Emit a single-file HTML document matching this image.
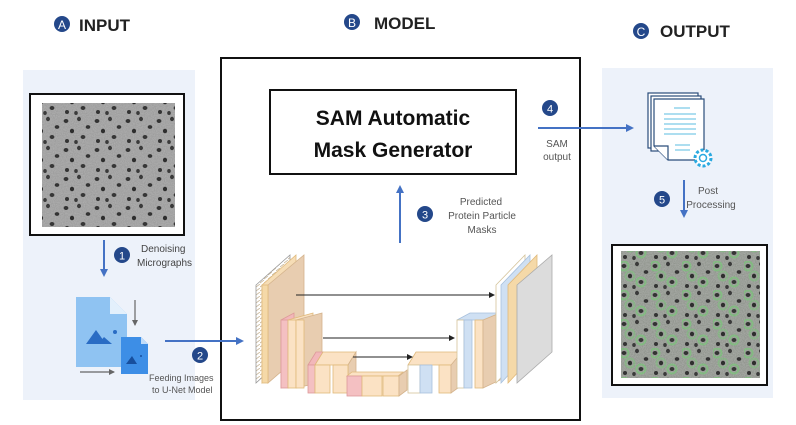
<!DOCTYPE html>
<html><head><meta charset="utf-8"><style>
html,body{margin:0;padding:0;background:#fff;}
svg{display:block;}
text{font-family:"Liberation Sans",sans-serif;}
</style></head><body>
<svg width="796" height="425" viewBox="0 0 796 425" xmlns="http://www.w3.org/2000/svg">
<defs>
<filter id="grain" x="0" y="0" width="100%" height="100%">
<feTurbulence type="fractalNoise" baseFrequency="0.9" numOctaves="2" seed="3"/>
<feColorMatrix type="matrix" values="0 0 0 0 0.55  0 0 0 0 0.55  0 0 0 0 0.55  0 0 0 -1.2 1.0"/>
</filter>
<pattern id="dots" width="31" height="29" patternUnits="userSpaceOnUse">
<ellipse cx="4" cy="5" rx="2.4" ry="2" fill="#333"/>
<ellipse cx="17" cy="3" rx="2" ry="2.2" fill="#3a3a3a"/>
<ellipse cx="26" cy="11" rx="2.3" ry="1.9" fill="#333"/>
<ellipse cx="10" cy="15" rx="2.1" ry="2.3" fill="#2e2e2e"/>
<ellipse cx="21" cy="21" rx="2.4" ry="2" fill="#363636"/>
<ellipse cx="5" cy="25" rx="2" ry="2" fill="#333"/>
<ellipse cx="14" cy="26" rx="1.8" ry="2" fill="#3a3a3a"/>
</pattern>
<pattern id="gdots" width="31" height="29" patternUnits="userSpaceOnUse">
<circle cx="4" cy="5" r="4.5" fill="none" stroke="#6fcf6f" stroke-width="2" opacity=".55"/>
<circle cx="21" cy="21" r="4.5" fill="none" stroke="#6fcf6f" stroke-width="2" opacity=".55"/>
<circle cx="10" cy="15" r="4.5" fill="none" stroke="#6fcf6f" stroke-width="2" opacity=".4"/>
<ellipse cx="4" cy="5" rx="2.4" ry="2" fill="#333"/>
<ellipse cx="17" cy="3" rx="2" ry="2.2" fill="#3a3a3a"/>
<ellipse cx="26" cy="11" rx="2.3" ry="1.9" fill="#333"/>
<ellipse cx="10" cy="15" rx="2.1" ry="2.3" fill="#2e2e2e"/>
<ellipse cx="21" cy="21" rx="2.4" ry="2" fill="#363636"/>
<ellipse cx="5" cy="25" rx="2" ry="2" fill="#333"/>
<ellipse cx="14" cy="26" rx="1.8" ry="2" fill="#3a3a3a"/>
</pattern>
<pattern id="hatch" width="4" height="4" patternUnits="userSpaceOnUse">
<rect width="4" height="4" fill="#fff"/><line x1="0" y1="3" x2="4" y2="0" stroke="#c9b79a" stroke-width="0.8"/>
</pattern>
<marker id="ah" markerWidth="8" markerHeight="8" refX="6" refY="4" orient="auto" markerUnits="userSpaceOnUse"><path d="M0,0 L8,4 L0,8 z" fill="#4472c4"/></marker>
<marker id="ak" markerWidth="6" markerHeight="6" refX="5" refY="3" orient="auto" markerUnits="userSpaceOnUse"><path d="M0,0 L6,3 L0,6 z" fill="#222"/></marker>
<marker id="ag" markerWidth="6" markerHeight="6" refX="5" refY="3" orient="auto" markerUnits="userSpaceOnUse"><path d="M0,0 L6,3 L0,6 z" fill="#666"/></marker>
</defs>

<!-- headers -->
<circle cx="62" cy="24" r="8" fill="#24488a"/><text x="62" y="29" font-size="12" fill="#fff" text-anchor="middle">A</text>
<text x="79" y="31" font-size="17" font-weight="bold" fill="#222">INPUT</text>
<circle cx="352" cy="22" r="8" fill="#24488a"/><text x="352" y="27" font-size="12" fill="#fff" text-anchor="middle">B</text>
<text x="374" y="29" font-size="17" font-weight="bold" fill="#222">MODEL</text>
<circle cx="641" cy="31" r="8" fill="#24488a"/><text x="641" y="36" font-size="12" fill="#fff" text-anchor="middle">C</text>
<text x="660" y="37" font-size="17" font-weight="bold" fill="#222">OUTPUT</text>

<!-- side panels -->
<rect x="23" y="70" width="172" height="330" fill="#edf2fa"/>
<rect x="602" y="68" width="171" height="330" fill="#edf2fa"/>

<!-- model box -->
<rect x="221" y="58" width="359" height="362" fill="#fff" stroke="#111" stroke-width="2"/>

<!-- input image -->
<rect x="30" y="94" width="154" height="141" fill="#fff" stroke="#111" stroke-width="2"/>
<rect x="42" y="103" width="133" height="124" fill="#9b9b9b"/>
<rect x="42" y="103" width="133" height="124" filter="url(#grain)" opacity=".6"/>
<rect x="42" y="103" width="133" height="124" fill="url(#dots)"/>

<!-- arrow 1 -->
<line x1="104" y1="240" x2="104" y2="275" stroke="#4472c4" stroke-width="2" marker-end="url(#ah)"/>
<circle cx="122" cy="255" r="8" fill="#24488a"/><text x="122" y="259.5" font-size="11" fill="#fff" text-anchor="middle">1</text>
<text x="141" y="252" font-size="10" fill="#444">Denoising</text>
<text x="137" y="266" font-size="10" fill="#444">Micrographs</text>

<!-- image file icons -->
<path d="M76,297 L110,297 L127,314 L127,367 L76,367 z" fill="#8fc3f2"/>
<path d="M110,297 L127,314 L110,314 z" fill="#e3f0fc"/>
<path d="M86,344 L96,330 L106,344 z" fill="#2a6cc4"/><path d="M98,344 L104,337 L112,344 z" fill="#2a6cc4"/>
<circle cx="115" cy="332" r="2" fill="#2a6cc4"/>
<path d="M121,337 L141,337 L148,344 L148,374 L121,374 z" fill="#3d8ee6"/>
<path d="M141,337 L148,344 L141,344 z" fill="#bfdcfa"/>
<path d="M126,364 L132,356 L137,364 z" fill="#174f9e"/><circle cx="141" cy="356" r="1" fill="#174f9e"/>
<line x1="135" y1="300" x2="135" y2="325" stroke="#666" stroke-width="1.2" marker-end="url(#ag)"/>
<line x1="80" y1="372" x2="114" y2="372" stroke="#666" stroke-width="1.2" marker-end="url(#ag)"/>

<!-- arrow 2 -->
<line x1="165" y1="341" x2="242" y2="341" stroke="#4472c4" stroke-width="2" marker-end="url(#ah)"/>
<circle cx="200" cy="355" r="8" fill="#24488a"/><text x="200" y="359.5" font-size="11" fill="#fff" text-anchor="middle">2</text>
<text x="149" y="381" font-size="9" fill="#555">Feeding Images</text>
<text x="152" y="393" font-size="9" fill="#555">to U-Net Model</text>

<rect x="270" y="90" width="246" height="84" fill="#fff" stroke="#111" stroke-width="2"/>
<text x="393" y="125" font-size="21" font-weight="bold" fill="#111" text-anchor="middle">SAM Automatic</text>
<text x="393" y="157" font-size="21" font-weight="bold" fill="#111" text-anchor="middle">Mask Generator</text>

<!-- arrow 3 -->
<line x1="400" y1="243" x2="400" y2="187" stroke="#4472c4" stroke-width="2" marker-end="url(#ah)"/>
<circle cx="425" cy="214" r="8" fill="#24488a"/><text x="425" y="218.5" font-size="11" fill="#fff" text-anchor="middle">3</text>
<text x="481" y="205" font-size="10" fill="#555" text-anchor="middle">Predicted</text>
<text x="482" y="219" font-size="10" fill="#555" text-anchor="middle">Protein Particle</text>
<text x="482" y="233" font-size="10" fill="#555" text-anchor="middle">Masks</text>

<!-- U-Net -->
<g stroke-width="0.8">
<polygon points="256,285 290,255 290,352 256,383" fill="url(#hatch)" stroke="#999"/>
<polygon points="262,285 296,255 296,352 262,383" fill="#f6ddb6" stroke="#e0b97a"/>
<polygon points="268,285 304,255 304,352 268,383" fill="#e8cdb0" stroke="#d4b38c"/>
<rect x="262" y="285" width="6" height="98" fill="#f5d9a8" stroke="#e0b97a"/>
<polygon points="281,320 294,313 294,382 281,388" fill="#f2b7b9" stroke="#d99"/>
<polygon points="288,320 313,313 313,382 288,388" fill="#f8dfc0" stroke="#e0b97a"/>
<polygon points="296,320 322,313 322,382 296,388" fill="#e8cdb0" stroke="#d4b38c"/>
<rect x="281" y="320" width="7" height="68" fill="#f4c0c2" stroke="#d99"/>
<rect x="288" y="320" width="8" height="68" fill="#fbe2c4" stroke="#e0b97a"/>
<rect x="296" y="320" width="8" height="68" fill="#fbe2c4" stroke="#e0b97a"/>
<polygon points="308,365 316,352 323,352 315,365" fill="#f2b7b9" stroke="#d99"/>
<rect x="308" y="365" width="7" height="28" fill="#f4c0c2" stroke="#d99"/>
<polygon points="315,365 323,352 356,352 348,365" fill="#fbe2c4" stroke="#e0b97a"/>
<polygon points="348,365 356,352 356,385 348,393" fill="#e8cdb0" stroke="#d4b38c"/>
<rect x="315" y="365" width="15" height="28" fill="#fbe2c4" stroke="#e0b97a"/>
<rect x="333" y="365" width="15" height="28" fill="#fbe2c4" stroke="#e0b97a"/>
<polygon points="347,376 352,372 403,372 398,376" fill="#fbe2c4" stroke="#e0b97a"/>
<rect x="347" y="376" width="15" height="20" fill="#f4c0c2" stroke="#d99"/>
<rect x="362" y="376" width="20" height="20" fill="#fbe2c4" stroke="#e0b97a"/>
<rect x="383" y="376" width="16" height="20" fill="#fbe2c4" stroke="#e0b97a"/>
<polygon points="399,376 407,370 407,390 399,396" fill="#e8cdb0" stroke="#d4b38c"/>
<polygon points="408,365 416,352 462,352 454,365" fill="#fbe2c4" stroke="#e0b97a"/>
<rect x="408" y="365" width="12" height="28" fill="#fff" stroke="#d4c39a"/>
<rect x="420" y="365" width="12" height="28" fill="#cfe0f3" stroke="#a7c0dd"/>
<rect x="439" y="365" width="12" height="28" fill="#fbe2c4" stroke="#e0b97a"/>
<polygon points="451,365 462,352 462,385 451,393" fill="#e8cdb0" stroke="#d4b38c"/>
<polygon points="457,320 470,313 500,313 487,320" fill="#cfe0f3" stroke="#a7c0dd"/>
<rect x="457" y="320" width="7" height="68" fill="#fff" stroke="#d4c39a"/>
<rect x="464" y="320" width="8" height="68" fill="#cfe0f3" stroke="#a7c0dd"/>
<rect x="475" y="320" width="8" height="68" fill="#fbe2c4" stroke="#e0b97a"/>
<polygon points="483,320 500,313 500,380 483,388" fill="#e8cdb0" stroke="#d4b38c"/>
<polygon points="496,285 525,255 525,352 496,383" fill="#fff" stroke="#d4c39a"/>
<polygon points="501,285 530,255 530,352 501,383" fill="#cfe0f3" stroke="#a7c0dd"/>
<polygon points="508,285 537,255 537,352 508,383" fill="#f5d9a8" stroke="#e0b97a"/>
<polygon points="517,285 552,255 552,352 517,383" fill="#dcdcdc" stroke="#aaa"/>
<line x1="296" y1="295" x2="494" y2="295" stroke="#222" stroke-width="1" marker-end="url(#ak)"/>
<line x1="323" y1="338" x2="454" y2="338" stroke="#222" stroke-width="1" marker-end="url(#ak)"/>
<line x1="353" y1="357" x2="412" y2="357" stroke="#222" stroke-width="1" marker-end="url(#ak)"/>
</g>

<!-- arrow 4 -->
<line x1="538" y1="128" x2="632" y2="128" stroke="#4472c4" stroke-width="2" marker-end="url(#ah)"/>
<circle cx="550" cy="108" r="8" fill="#24488a"/><text x="550" y="112.5" font-size="11" fill="#fff" text-anchor="middle">4</text>
<text x="557" y="147" font-size="10" fill="#555" text-anchor="middle">SAM</text>
<text x="557" y="160" font-size="10" fill="#555" text-anchor="middle">output</text>

<!-- document icon -->
<g fill="#fff" stroke="#2a4d7a" stroke-width="1.2">
<rect x="648" y="93" width="50" height="55"/>
<rect x="651" y="96" width="50" height="55"/>
<path d="M654,99 L704,99 L704,160 L668,160 L654,146 z"/>
<path d="M654,146 L668,146 L668,160"/>
</g>
<g stroke="#5bbde0" stroke-width="1">
<line x1="674" y1="108" x2="690" y2="108"/>
<line x1="664" y1="114" x2="696" y2="114"/><line x1="664" y1="119" x2="696" y2="119"/>
<line x1="664" y1="124" x2="696" y2="124"/><line x1="664" y1="129" x2="696" y2="129"/>
<line x1="664" y1="134" x2="696" y2="134"/><line x1="675" y1="145" x2="690" y2="145"/>
<line x1="675" y1="150" x2="690" y2="150"/>
</g>
<circle cx="703" cy="158" r="8" fill="#fff" stroke="#2aa9e0" stroke-width="3" stroke-dasharray="3 2"/>
<circle cx="703" cy="158" r="3.5" fill="#fff" stroke="#2aa9e0" stroke-width="1.5"/>

<!-- arrow 5 -->
<line x1="684" y1="180" x2="684" y2="216" stroke="#4472c4" stroke-width="2" marker-end="url(#ah)"/>
<circle cx="662" cy="199" r="8" fill="#24488a"/><text x="662" y="203.5" font-size="11" fill="#fff" text-anchor="middle">5</text>
<text x="708" y="194" font-size="10" fill="#555" text-anchor="middle">Post</text>
<text x="711" y="208" font-size="10" fill="#555" text-anchor="middle">Processing</text>

<!-- output image -->
<rect x="612" y="245" width="155" height="140" fill="#fff" stroke="#111" stroke-width="2"/>
<rect x="621" y="251" width="139" height="127" fill="#8f948c"/>
<rect x="621" y="251" width="139" height="127" filter="url(#grain)" opacity=".6"/>
<rect x="621" y="251" width="139" height="127" fill="url(#gdots)"/>
</svg>
</body></html>
